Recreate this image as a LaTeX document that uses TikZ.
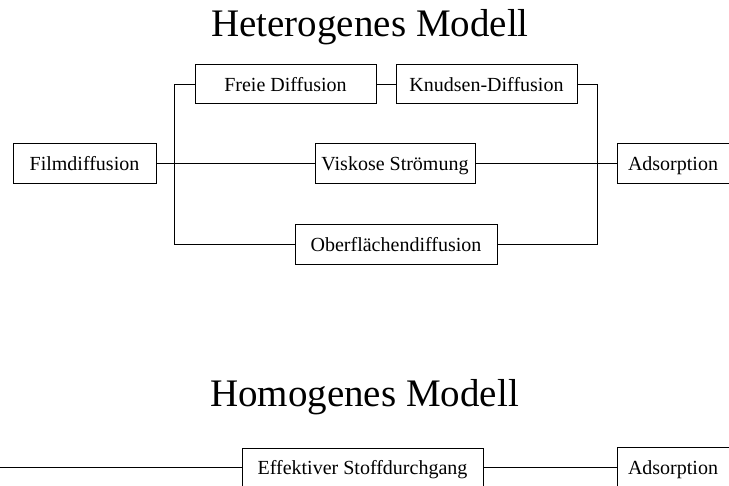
\documentclass[tikz,border=0pt]{standalone}
\usepackage{fontspec}
\setmainfont{Liberation Serif}
\begin{document}
\begin{tikzpicture}[x=1pt,y=-1pt,
  line width=1pt,
  box/.style={draw, rectangle, inner sep=0pt, align=center, text height=16pt, text depth=2pt, font=\fontsize{20}{24}\selectfont},
  ttl/.style={anchor=base, inner sep=0pt, font=\fontsize{39}{46}\selectfont}]
\useasboundingbox (0,0) rectangle (729,486);
% titles
\node[ttl] (t1) at (370,37) {Heterogenes Modell};
\node[ttl] (t2) at (364.5,407) {Homogenes Modell};
% heterogeneous model
\node[box, minimum width=143pt, minimum height=40pt] (film) at (84.5,164) {Filmdiffusion};
\node[box, minimum width=181pt, minimum height=39pt] (freie) at (285.5,84.5) {Freie Diffusion};
\node[box, minimum width=181pt, minimum height=39pt] (knud) at (486.5,84.5) {Knudsen-Diffusion};
\node[box, minimum width=160pt, minimum height=40pt] (visk) at (395,164) {Viskose Strömung};
\node[box, minimum width=202pt, minimum height=40pt] (ober) at (396,245) {Oberflächendiffusion};
\node[box, minimum width=114pt, minimum height=40pt, text width=114pt, align=left] (ads1) at (674,164) {\hspace*{11pt}Adsorption};
\coordinate (Lt) at (174,84.5);
\coordinate (Lm) at (174,164);
\coordinate (Lb) at (174,245);
\coordinate (Rt) at (597,84.5);
\coordinate (Rm) at (597,164);
\coordinate (Rb) at (597,245);
\draw (Lt) -- (Lb);
\draw (Rt) -- (Rb);
\draw (film.east) -- (Lm);
\draw (Lt) -- (freie.west);
\draw (freie.east) -- (knud.west);
\draw (knud.east) -- (Rt);
\draw (Lm) -- (visk.west);
\draw (visk.east) -- (Rm);
\draw (Rm) -- (ads1.west);
\draw (Lb) -- (ober.west);
\draw (ober.east) -- (Rb);
% homogeneous model
\node[box, minimum width=241pt, minimum height=38pt] (eff) at (362.5,468) {Effektiver Stoffdurchgang};
\node[box, minimum width=114pt, minimum height=40pt, text width=114pt, align=left] (ads2) at (674,468) {\hspace*{11pt}Adsorption};
\coordinate (B0) at (0,468);
\draw (B0) -- (eff.west);
\draw (eff.east) -- (ads2.west);
\end{tikzpicture}
\end{document}
